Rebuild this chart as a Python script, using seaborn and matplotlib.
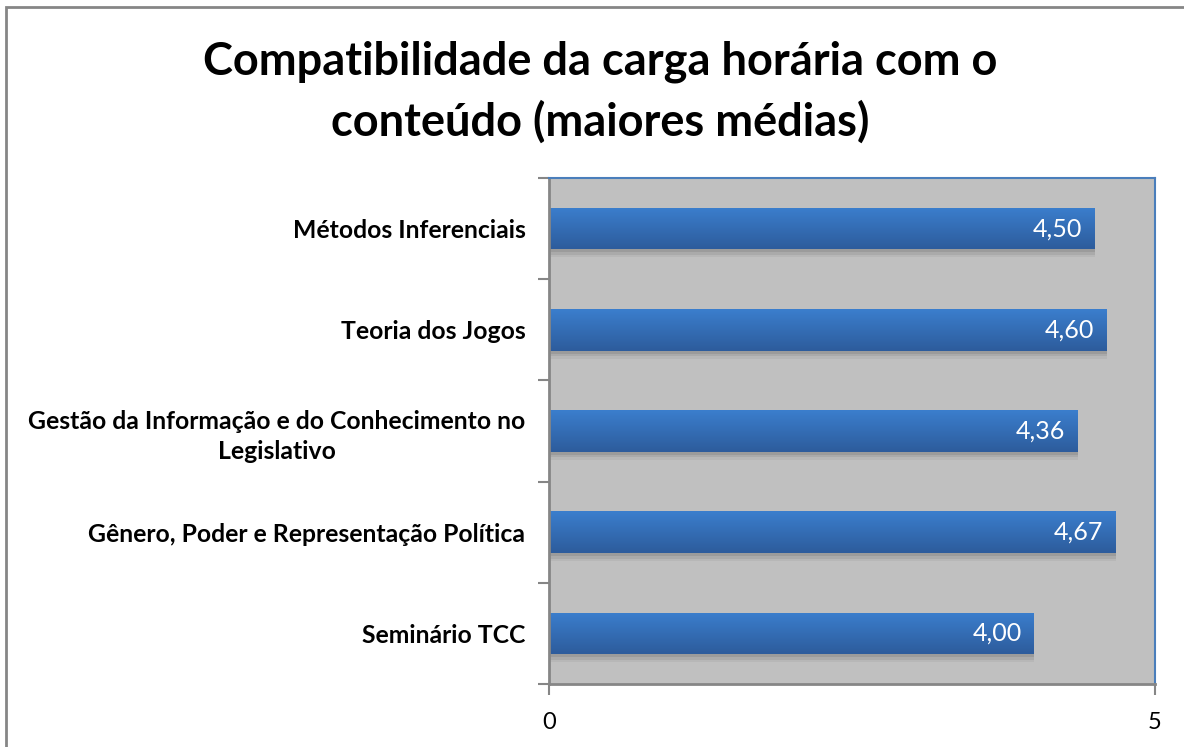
import numpy as np
import pandas as pd
import matplotlib
matplotlib.use("Agg")
import matplotlib.pyplot as plt
import seaborn as sns
from matplotlib.patches import Rectangle
from matplotlib.colors import LinearSegmentedColormap

categories = ["Métodos Inferenciais", "Teoria dos Jogos",
              "Gestão da Informação e do Conhecimento no\nLegislativo",
              "Gênero, Poder e Representação Política", "Seminário TCC"]
values = [4.50, 4.60, 4.36, 4.67, 4.00]
value_labels = ["4,50", "4,60", "4,36", "4,67", "4,00"]
xticks = [0, 5]
title = "Compatibilidade da carga horária com o\nconteúdo (maiores médias)"

df = pd.DataFrame({"cat": categories, "val": values})

sns.set_theme(style="white")
plt.rcParams["font.family"] = ["Lato", "DejaVu Sans"]
plt.rcParams["text.color"] = "black"
plt.rcParams["xtick.color"] = "black"
plt.rcParams["ytick.color"] = "black"

fig = plt.figure(figsize=(11.84, 7.47), dpi=100)
ax = fig.add_axes([549/1184, 1-684/747, (1155-549)/1184, (684-178)/747])

sns.barplot(data=df, x="val", y="cat", orient="h", color="#3A77C2",
            width=0.41, ax=ax, saturation=1)

ax.set_facecolor("#C0C0C0")
ax.set_xlabel("")
ax.set_ylabel("")

cmap = LinearSegmentedColormap.from_list("g", ["#3B7ECD", "#2D5C9C"])
grad = np.linspace(0, 1, 64).reshape(-1, 1)
for p, lab in zip(ax.patches, value_labels):
    x0, y0 = p.get_x(), p.get_y()
    w, h = p.get_width(), p.get_height()
    # soft shadow
    for k, a in enumerate([0.25, 0.18, 0.10]):
        sh = Rectangle((x0 + 0.005, y0 + 0.03 + 0.025 * k), w, h,
                       facecolor="#707070", edgecolor="none", alpha=a,
                       zorder=1.5)
        ax.add_patch(sh)
    p.set_zorder(2)
    p.set_edgecolor("none")
    im = ax.imshow(grad, extent=[x0, x0 + w, y0 + h, y0], aspect="auto",
                   cmap=cmap, origin="upper", zorder=2.1)
    im.set_clip_path(p)
    ax.text(x0 + w - 0.1, y0 + h / 2, lab, ha="right", va="center",
            color="white", fontsize=18, zorder=3)
ax.set_xlim(0, 5)
ax.set_ylim(len(categories) - 0.5, -0.5)

ax.set_xticks(xticks)
ax.set_xticklabels([str(t) for t in xticks], fontsize=17)
ax.set_yticks(range(len(categories)))
ax.set_yticklabels(categories, fontsize=17.8, fontweight="bold",
                   linespacing=1.35)
for t in ax.get_yticklabels():
    t.set_multialignment("center")
ax.set_yticks(np.arange(-0.5, len(categories), 1), minor=True)
ax.tick_params(axis="y", which="major", length=0, pad=17)
ax.tick_params(axis="y", which="minor", length=8, width=1.5, color="#868686",
               direction="out", left=True)
ax.tick_params(axis="x", which="major", length=8, width=1.5, color="#868686",
               direction="out", bottom=True, pad=12)

for s in ["left", "bottom"]:
    ax.spines[s].set_color("#868686")
    ax.spines[s].set_linewidth(2)
for s in ["top", "right"]:
    ax.spines[s].set_color("#4A7EBB")
    ax.spines[s].set_linewidth(1.5)
    ax.spines[s].set_visible(True)

fig.text(600/1184, 1-92/747, title, ha="center", va="center",
         fontsize=32.5, fontweight="bold", linespacing=1.47, color="black")

fig.patches.append(Rectangle((6/1184, -0.05), 1.1, 1-7/747 + 0.05,
                             transform=fig.transFigure, fill=False,
                             edgecolor="#868686", linewidth=2))

fig.savefig("out.png", dpi=100)
